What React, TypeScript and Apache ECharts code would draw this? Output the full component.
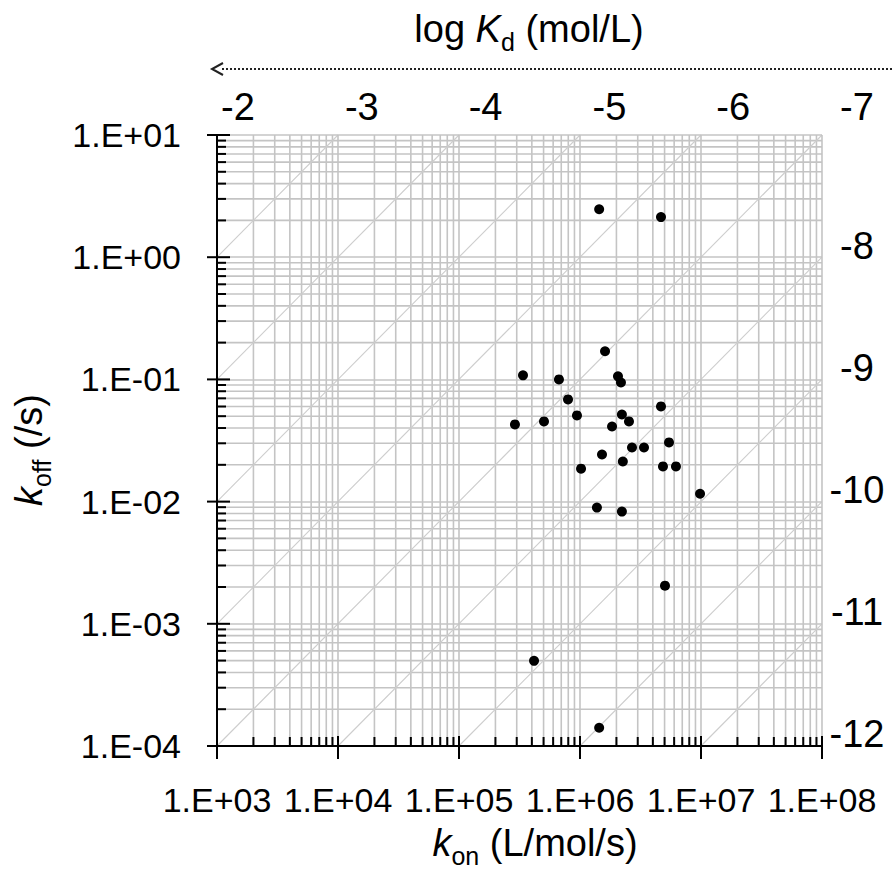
import React, { useEffect, useRef } from 'react';
import * as echarts from 'echarts';

// ---- data ----
const KON: number[] = [
  1.44e6, 4.67e6, 1.61e6, 3.38e5, 6.7e5, 2.06e6, 2.18e6, 7.96e5, 9.44e5, 2.9e5,
  5.04e5, 2.22e6, 2.54e6, 1.84e6, 4.67e6, 2.69e6, 3.38e6, 5.44e6, 1.52e6, 2.26e6,
  1.02e6, 4.85e6, 6.21e6, 9.82e6, 1.38e6, 2.22e6, 5.04e6, 4.17e5, 1.44e6,
];
const KOFF: number[] = [
  2.47, 2.13, 0.17, 0.108, 0.1, 0.106, 0.0944, 0.0686, 0.0507, 0.0428,
  0.0453, 0.0516, 0.0453, 0.0412, 0.0601, 0.0277, 0.0277, 0.0305, 0.0243, 0.0213,
  0.0186, 0.0194, 0.0194, 0.0116, 0.00893, 0.00828, 0.00205, 0.000498, 0.000141,
];

// axis ticks
const X_DECADES: number[] = [1e3, 1e4, 1e5, 1e6, 1e7, 1e8];
const Y_DECADES: number[] = [1e-4, 1e-3, 1e-2, 1e-1, 1e0, 1e1];
const MINOR_STEPS: number[] = [2, 3, 4, 5, 6, 7, 8, 9];
const KD_TOP_LABELS: number[] = [-2, -3, -4, -5, -6, -7];
const KD_RIGHT_LABELS: number[] = [-8, -9, -10, -11, -12];
const KD_LINE_EXPONENTS: number[] = [-3, -4, -5, -6, -7, -8, -9, -10, -11, -12];

const X_MIN = X_DECADES[0];
const X_MAX = X_DECADES[X_DECADES.length - 1];
const Y_MIN = Y_DECADES[0];
const Y_MAX = Y_DECADES[Y_DECADES.length - 1];

const FONT = '"Liberation Sans", Arial, Helvetica, sans-serif';
const GRID_COLOR = '#c4c4c4';
const DIAG_COLOR = '#cdcdcd';

const sciLabel = (v: number) => {
  const e = Math.round(Math.log10(v));
  const s = String(Math.abs(e)).padStart(2, '0');
  return `1.E${e < 0 ? '-' : '+'}${s}`;
};

function buildOption() {
  const points = KON.map((k, i) => [k, KOFF[i]]);

  // minor grid lines: kind 0 vertical, 1 horizontal
  const gridData: number[][] = [];
  X_DECADES.slice(0, -1).forEach((d) => MINOR_STEPS.forEach((m) => gridData.push([d * m, Y_MIN, 0])));
  Y_DECADES.slice(0, -1).forEach((d) => MINOR_STEPS.forEach((m) => gridData.push([X_MIN, d * m, 1])));

  // ticks: 0 x minor, 1 x major, 2 y minor, 3 y major
  const tickData: number[][] = [];
  X_DECADES.forEach((d, i) => {
    tickData.push([d, Y_MIN, 1]);
    if (i < X_DECADES.length - 1) MINOR_STEPS.forEach((m) => tickData.push([d * m, Y_MIN, 0]));
  });
  Y_DECADES.forEach((d, i) => {
    tickData.push([X_MIN, d, 3]);
    if (i < Y_DECADES.length - 1) MINOR_STEPS.forEach((m) => tickData.push([X_MIN, d * m, 2]));
  });

  // iso-Kd diagonals clipped to the plot box
  const diagData: number[][] = KD_LINE_EXPONENTS.map((e) => {
    const kd = Math.pow(10, e);
    const x1 = Math.max(X_MIN, Y_MIN / kd);
    const x2 = Math.min(X_MAX, Y_MAX / kd);
    return [x1, kd * x1, x2, kd * x2];
  });

  const titleRich = {
    a: { fontSize: 38, fontFamily: FONT, color: '#000', lineHeight: 44 },
    k: { fontSize: 38, fontFamily: FONT, fontStyle: 'italic', color: '#000', lineHeight: 44 },
    s: { fontSize: 25, fontFamily: FONT, color: '#000', lineHeight: 44, padding: [26, 0, 0, 0] },
  };

  return {
    animation: false,
    backgroundColor: '#fff',
    grid: [
      { left: 217, top: 135, width: 605, height: 611 },
      { left: 238, top: 124, width: 619, height: 610 },
    ],
    xAxis: [
      {
        type: 'log',
        logBase: 10,
        gridIndex: 0,
        min: X_MIN,
        max: X_MAX,
        position: 'bottom',
        z: 3,
        axisLine: { show: true, onZero: false, lineStyle: { color: '#000', width: 2 } },
        axisTick: { show: false },
        minorTick: { show: false },
        splitLine: { show: true, lineStyle: { color: GRID_COLOR, width: 1.6 } },
        axisLabel: { formatter: sciLabel, fontSize: 34, fontFamily: FONT, color: '#000', margin: 37 },
      },
      {
        type: 'value',
        gridIndex: 1,
        position: 'top',
        min: KD_TOP_LABELS[KD_TOP_LABELS.length - 1],
        max: KD_TOP_LABELS[0],
        interval: 1,
        inverse: true,
        axisLine: { show: false },
        axisTick: { show: false },
        splitLine: { show: false },
        axisLabel: { fontSize: 38, fontFamily: FONT, color: '#000', margin: -2 },
      },
    ],
    yAxis: [
      {
        type: 'log',
        logBase: 10,
        gridIndex: 0,
        min: Y_MIN,
        max: Y_MAX,
        position: 'left',
        z: 3,
        axisLine: { show: true, onZero: false, lineStyle: { color: '#000', width: 2 } },
        axisTick: { show: false },
        minorTick: { show: false },
        splitLine: { show: true, lineStyle: { color: GRID_COLOR, width: 1.6 } },
        axisLabel: { formatter: sciLabel, fontSize: 34, fontFamily: FONT, color: '#000', margin: 36 },
      },
      {
        type: 'value',
        gridIndex: 1,
        position: 'right',
        min: KD_RIGHT_LABELS[KD_RIGHT_LABELS.length - 1],
        max: KD_RIGHT_LABELS[0] + 1,
        interval: 1,
        axisLine: { show: false },
        axisTick: { show: false },
        splitLine: { show: false },
        axisLabel: {
          fontSize: 38,
          fontFamily: FONT,
          color: '#000',
          margin: 0,
          align: 'center',
          formatter: (v: number) => (KD_RIGHT_LABELS.indexOf(v) >= 0 ? String(v) : ''),
        },
      },
    ],
    series: [
      {
        type: 'custom',
        xAxisIndex: 0,
        yAxisIndex: 0,
        z: 1,
        silent: true,
        data: gridData,
        renderItem: (params: any, api: any) => {
          const cs = params.coordSys;
          const kind = api.value(2);
          const p = api.coord([api.value(0), api.value(1)]);
          const shape =
            kind === 0
              ? { x1: p[0], y1: cs.y, x2: p[0], y2: cs.y + cs.height }
              : { x1: cs.x, y1: p[1], x2: cs.x + cs.width, y2: p[1] };
          return { type: 'line', shape, style: { stroke: GRID_COLOR, lineWidth: 1.6 } };
        },
      },
      {
        type: 'custom',
        xAxisIndex: 0,
        yAxisIndex: 0,
        z: 2,
        silent: true,
        data: diagData,
        encode: { x: [0, 2], y: [1, 3] },
        renderItem: (_params: any, api: any) => {
          const a = api.coord([api.value(0), api.value(1)]);
          const b = api.coord([api.value(2), api.value(3)]);
          return {
            type: 'line',
            shape: { x1: a[0], y1: a[1], x2: b[0], y2: b[1] },
            style: { stroke: DIAG_COLOR, lineWidth: 1.1 },
          };
        },
      },
      {
        type: 'custom',
        xAxisIndex: 0,
        yAxisIndex: 0,
        z: 4,
        silent: true,
        data: tickData,
        renderItem: (_params: any, api: any) => {
          const kind = api.value(2);
          const p = api.coord([api.value(0), api.value(1)]);
          let shape;
          if (kind === 0) shape = { x1: p[0], y1: p[1], x2: p[0], y2: p[1] - 9 };
          else if (kind === 1) shape = { x1: p[0], y1: p[1] - 10, x2: p[0], y2: p[1] + 13 };
          else if (kind === 2) shape = { x1: p[0], y1: p[1], x2: p[0] + 9, y2: p[1] };
          else shape = { x1: p[0] - 10, y1: p[1], x2: p[0] + 13, y2: p[1] };
          return { type: 'line', shape, style: { stroke: '#000', lineWidth: 2 } };
        },
      },
      {
        type: 'scatter',
        xAxisIndex: 0,
        yAxisIndex: 0,
        z: 5,
        symbol: 'circle',
        symbolSize: 10,
        itemStyle: { color: '#000', opacity: 1 },
        data: points,
      },
    ],
    graphic: [
      {
        type: 'text',
        x: 529,
        y: 29,
        style: { text: '{a|log }{k|K}{s|d}{a| (mol/L)}', rich: titleRich, align: 'center', verticalAlign: 'middle' },
      },
      {
        type: 'line',
        shape: { x1: 222, y1: 69, x2: 893, y2: 69 },
        style: { stroke: '#222', lineWidth: 2, lineDash: [2, 2] },
      },
      {
        type: 'polyline',
        shape: { points: [[223, 63], [212, 69], [223, 75]] },
        style: { stroke: '#222', lineWidth: 2, fill: null },
      },
      {
        type: 'text',
        x: 535,
        y: 843,
        style: { text: '{k|k}{s|on}{a| (L/mol/s)}', rich: titleRich, align: 'center', verticalAlign: 'middle' },
      },
      {
        type: 'text',
        x: 29,
        y: 450,
        rotation: Math.PI / 2,
        style: { text: '{k|k}{s|off}{a| (/s)}', rich: titleRich, align: 'center', verticalAlign: 'middle' },
      },
    ],
  };
}

export default function App() {
  const ref = useRef<HTMLDivElement>(null);
  useEffect(() => {
    if (!ref.current) return;
    const chart = echarts.init(ref.current, undefined, { renderer: 'svg' });
    chart.setOption(buildOption() as any);
    return () => chart.dispose();
  }, []);
  return (
    <div
      ref={ref}
      style={{ position: 'fixed', left: 0, top: 0, width: 893, height: 872, background: '#fff' }}
    />
  );
}
